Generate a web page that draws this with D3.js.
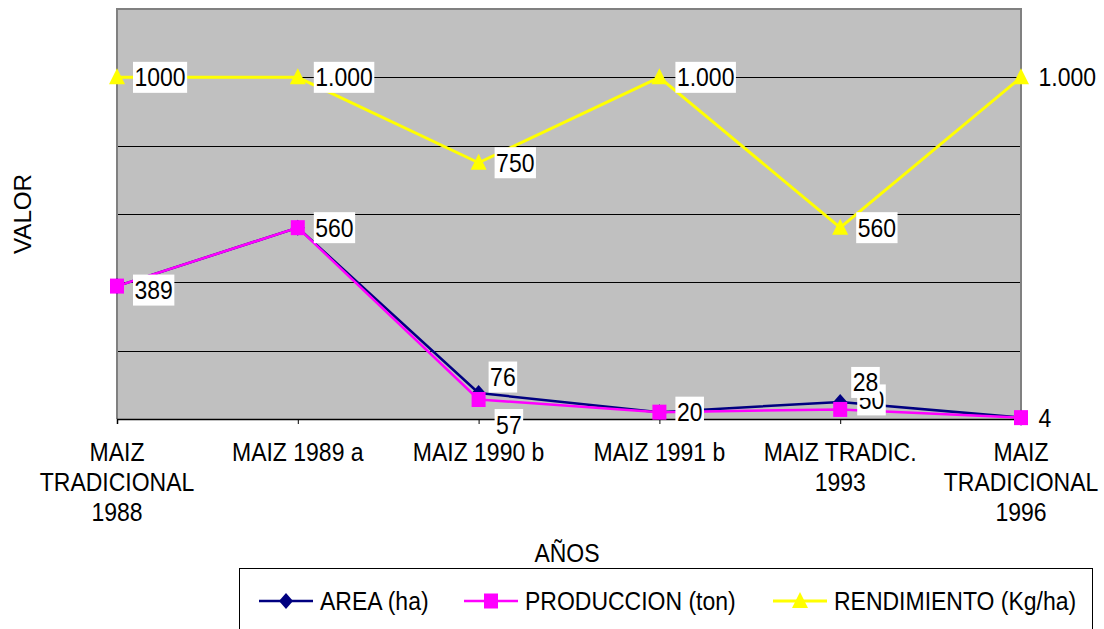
<!DOCTYPE html>
<html>
<head>
<meta charset="utf-8">
<script src="https://cdn.jsdelivr.net/npm/d3@7"></script>
<style>
  html, body { margin: 0; padding: 0; background: #fff; }
  svg text { font-family: "Liberation Sans", Arial, sans-serif; font-size: 23px; fill: #000; }
</style>
</head>
<body>
<svg id="chart" width="1104" height="629"></svg>
<script>
// chart data
const categories = ['MAIZ\nTRADICIONAL\n1988', 'MAIZ 1989 a', 'MAIZ 1990 b', 'MAIZ 1991 b', 'MAIZ TRADIC.\n1993', 'MAIZ\nTRADICIONAL\n1996'];
const area = [389, 560, 76, 20, 50, 4];
const produccion = [389, 560, 57, 20, 28, 4];
const rendimiento = [1000, 1000, 750, 1000, 560, 1000];
const areaLabels = ['389', '560', '76', '20', '50', '4'];
const prodLabels = [null, null, '57', null, '28', null];
const rendLabels = ['1000', '1.000', '750', '1.000', '560', '1.000'];
const yTicks = [0, 200, 400, 600, 800, 1000, 1200];
const seriesNames = ['AREA (ha)', 'PRODUCCION (ton)', 'RENDIMIENTO (Kg/ha)'];

const STRETCH = 1.1; // text in the original looks a bit tall

const svg = d3.select('#chart');
const plotLeft = 117, plotRight = 1021, plotTop = 9, plotBottom = 419;

const x = d3.scalePoint().domain(d3.range(categories.length)).range([plotLeft, plotRight]).padding(0);
const y = d3.scaleLinear().domain([0, 1200]).range([plotBottom, plotTop]);

function stretchedText(g, txt, tx, ty, anchor) {
	return g.append('text')
		.attr('transform', `translate(${tx},${ty}) scale(1,${STRETCH})`)
		.attr('text-anchor', anchor || 'start')
		.text(txt);
}

// plot background
svg.append('rect')
	.attr('x', plotLeft).attr('y', plotTop)
	.attr('width', plotRight - plotLeft).attr('height', plotBottom - plotTop)
	.attr('fill', '#c0c0c0');

// gridlines
svg.append('g')
	.selectAll('line')
	.data(yTicks.filter(t => t > 0 && t < 1200))
	.enter()
	.append('line')
	.attr('x1', plotLeft).attr('x2', plotRight)
	.attr('y1', d => Math.round(y(d)) + 0.5).attr('y2', d => Math.round(y(d)) + 0.5)
	.attr('stroke', '#000').attr('stroke-width', 1);

// plot border (gray)
svg.append('path')
	.attr('d', `M${plotLeft},${plotBottom} L${plotLeft},${plotTop} L${plotRight},${plotTop} L${plotRight},${plotBottom}`)
	.attr('fill', 'none').attr('stroke', '#808080').attr('stroke-width', 2);

// x axis
const xAxis = d3.axisBottom(x).tickSize(5).tickFormat('');
const axG = svg.append('g').attr('transform', `translate(0,${plotBottom})`).call(xAxis);
axG.select('.domain').attr('stroke', '#000').attr('stroke-width', 1.5);
axG.selectAll('.tick line').attr('stroke', '#000');

// category labels, multiline
categories.forEach((c, i) => {
	c.split('\n').forEach((line, j) => {
		stretchedText(svg, line, x(i), 461 + j * 30, 'middle');
	});
});

// axis titles
svg.append('text')
	.attr('transform', `translate(31,214) rotate(-90) scale(1.05,1)`)
	.attr('text-anchor', 'middle')
	.text('VALOR');
stretchedText(svg, 'AÑOS', 567, 562, 'middle');

// series
const series = [
	{ values: area, color: '#000080', marker: 'diamond', width: 2.5 },
	{ values: produccion, color: '#ff00ff', marker: 'square', width: 2.5 },
	{ values: rendimiento, color: '#ffff00', marker: 'triangle', width: 3 }
];

function markerPath(type, cx, cy) {
	if (type === 'diamond') return `M${cx},${cy - 8} L${cx + 7},${cy} L${cx},${cy + 8} L${cx - 7},${cy} Z`;
	if (type === 'square') return `M${cx - 7},${cy - 7.5} h14 v15 h-14 Z`;
	return `M${cx},${cy - 9} L${cx + 8},${cy + 7} L${cx - 8},${cy + 7} Z`;
}

const line = d3.line().x((d, i) => x(i)).y(d => y(d));

series.forEach(s => {
	svg.append('path')
		.datum(s.values)
		.attr('d', line)
		.attr('fill', 'none')
		.attr('stroke', s.color)
		.attr('stroke-width', s.width)
		.attr('stroke-linejoin', 'round');
	svg.append('g')
		.selectAll('path')
		.data(s.values)
		.enter()
		.append('path')
		.attr('d', (d, i) => markerPath(s.marker, x(i), y(d)))
		.attr('fill', s.color);
});

// data labels: white box, text right of the point unless moved
const labelMoves = {
	'a0': [16, 4], 'a2': [10, -16], 'a4': [17, -2],
	'p2': [16, 25], 'p4': [11, -27]
};

function drawLabels(values, labels, key) {
	labels.forEach((lab, i) => {
		if (lab == null) return;
		const mv = labelMoves[key + i] || [16, 0];
		const bx = x(i) + mv[0];
		const cy = y(values[i]) + mv[1];
		const g = svg.append('g');
		const r = g.append('rect').attr('fill', '#fff');
		const t = stretchedText(g, lab, bx + 1.5, cy + 9, 'start');
		const w = t.node().getComputedTextLength();
		r.attr('x', bx).attr('y', cy - 15.5).attr('width', w + 3).attr('height', 31);
	});
}

drawLabels(area, areaLabels, 'a');
drawLabels(produccion, prodLabels, 'p');
drawLabels(rendimiento, rendLabels, 'r');

// legend
const legend = svg.append('g');
legend.append('rect')
	.attr('x', 239.5).attr('y', 568.5)
	.attr('width', 853).attr('height', 80)
	.attr('fill', '#fff').attr('stroke', '#000').attr('stroke-width', 1);

const legendX = [259, 464, 773];
series.forEach((s, i) => {
	const lx = legendX[i], ly = 601;
	legend.append('line')
		.attr('x1', lx).attr('x2', lx + 54)
		.attr('y1', ly).attr('y2', ly)
		.attr('stroke', s.color).attr('stroke-width', s.width);
	legend.append('path')
		.attr('d', markerPath(s.marker, lx + 27, ly))
		.attr('fill', s.color);
	stretchedText(legend, seriesNames[i], lx + 61, ly + 9, 'start');
});
</script>
</body>
</html>
